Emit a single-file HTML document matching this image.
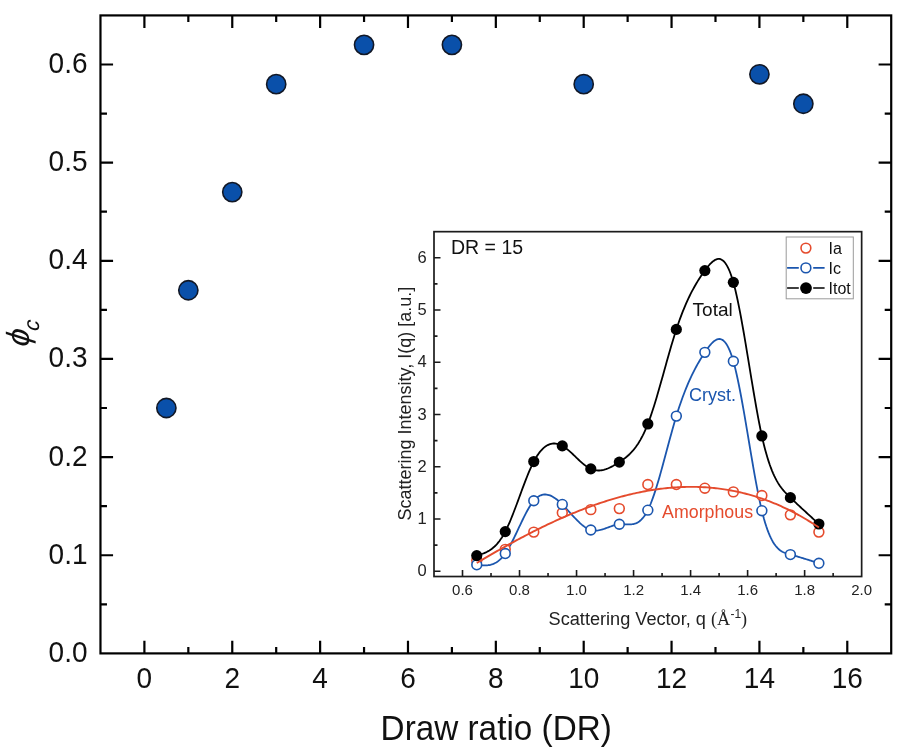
<!DOCTYPE html>
<html><head><meta charset="utf-8"><style>
html,body{margin:0;padding:0;background:#fff;width:905px;height:753px;overflow:hidden}
svg{display:block;will-change:transform}
text{font-family:"Liberation Sans",Arial,sans-serif;fill:#111}
.tl{font-size:28px;fill:#111}
.xl{font-size:33.3px;fill:#111}
.yl{font-size:32px;fill:#111}
.phi{font-style:italic}
.sub{font-size:22px;font-style:italic}
.il{font-size:15px;fill:#222}
.ily{font-size:16.5px;fill:#222}
.ia{font-size:18px;fill:#222}
.ser{font-family:"Liberation Serif",serif}
.sup{font-size:12px}
.dr{font-size:19.5px;fill:#111}
.an{font-size:18px}
.lg{font-size:16px;fill:#111}
</style></head><body>
<svg width="905" height="753" viewBox="0 0 905 753">
<rect x="100.47" y="15.42" width="790.74" height="637.98" fill="none" stroke="#000" stroke-width="2.2"/>
<path d="M144.40,653.40v-12.6M144.40,15.42v12.6M188.33,653.40v-6.5M188.33,15.42v6.5M232.26,653.40v-12.6M232.26,15.42v12.6M276.19,653.40v-6.5M276.19,15.42v6.5M320.12,653.40v-12.6M320.12,15.42v12.6M364.05,653.40v-6.5M364.05,15.42v6.5M407.98,653.40v-12.6M407.98,15.42v12.6M451.91,653.40v-6.5M451.91,15.42v6.5M495.84,653.40v-12.6M495.84,15.42v12.6M539.77,653.40v-6.5M539.77,15.42v6.5M583.70,653.40v-12.6M583.70,15.42v12.6M627.63,653.40v-6.5M627.63,15.42v6.5M671.56,653.40v-12.6M671.56,15.42v12.6M715.49,653.40v-6.5M715.49,15.42v6.5M759.42,653.40v-12.6M759.42,15.42v12.6M803.35,653.40v-6.5M803.35,15.42v6.5M847.28,653.40v-12.6M847.28,15.42v12.6M100.47,604.32h6.5M891.21,604.32h-6.5M100.47,555.25h12.6M891.21,555.25h-12.6M100.47,506.17h6.5M891.21,506.17h-6.5M100.47,457.10h12.6M891.21,457.10h-12.6M100.47,408.02h6.5M891.21,408.02h-6.5M100.47,358.95h12.6M891.21,358.95h-12.6M100.47,309.87h6.5M891.21,309.87h-6.5M100.47,260.80h12.6M891.21,260.80h-12.6M100.47,211.72h6.5M891.21,211.72h-6.5M100.47,162.65h12.6M891.21,162.65h-12.6M100.47,113.57h6.5M891.21,113.57h-6.5M100.47,64.50h12.6M891.21,64.50h-12.6" stroke="#000" stroke-width="2.2" fill="none"/>
<text transform="translate(144.40,688.2) scale(1,1.05)" class="tl" text-anchor="middle">0</text>
<text transform="translate(232.26,688.2) scale(1,1.05)" class="tl" text-anchor="middle">2</text>
<text transform="translate(320.12,688.2) scale(1,1.05)" class="tl" text-anchor="middle">4</text>
<text transform="translate(407.98,688.2) scale(1,1.05)" class="tl" text-anchor="middle">6</text>
<text transform="translate(495.84,688.2) scale(1,1.05)" class="tl" text-anchor="middle">8</text>
<text transform="translate(583.70,688.2) scale(1,1.05)" class="tl" text-anchor="middle">10</text>
<text transform="translate(671.56,688.2) scale(1,1.05)" class="tl" text-anchor="middle">12</text>
<text transform="translate(759.42,688.2) scale(1,1.05)" class="tl" text-anchor="middle">14</text>
<text transform="translate(847.28,688.2) scale(1,1.05)" class="tl" text-anchor="middle">16</text>
<text transform="translate(87.5,661.90) scale(1,1.05)" class="tl" text-anchor="end">0.0</text>
<text transform="translate(87.5,563.75) scale(1,1.05)" class="tl" text-anchor="end">0.1</text>
<text transform="translate(87.5,465.60) scale(1,1.05)" class="tl" text-anchor="end">0.2</text>
<text transform="translate(87.5,367.45) scale(1,1.05)" class="tl" text-anchor="end">0.3</text>
<text transform="translate(87.5,269.30) scale(1,1.05)" class="tl" text-anchor="end">0.4</text>
<text transform="translate(87.5,171.15) scale(1,1.05)" class="tl" text-anchor="end">0.5</text>
<text transform="translate(87.5,73.00) scale(1,1.05)" class="tl" text-anchor="end">0.6</text>
<text transform="translate(380.6,739.8) scale(1,1.055)" class="xl">Draw ratio (DR)</text>
<text transform="translate(29,347.2) rotate(-90) skewX(-7)" class="yl"><tspan class="phi">ϕ</tspan><tspan class="sub" dx="-0.8" dy="9.5">c</tspan></text>
<circle cx="166.37" cy="408.02" r="9.6" fill="#0a50aa" stroke="#121826" stroke-width="1.6"/>
<circle cx="188.33" cy="290.25" r="9.6" fill="#0a50aa" stroke="#121826" stroke-width="1.6"/>
<circle cx="232.26" cy="192.10" r="9.6" fill="#0a50aa" stroke="#121826" stroke-width="1.6"/>
<circle cx="276.19" cy="84.13" r="9.6" fill="#0a50aa" stroke="#121826" stroke-width="1.6"/>
<circle cx="364.05" cy="44.87" r="9.6" fill="#0a50aa" stroke="#121826" stroke-width="1.6"/>
<circle cx="451.91" cy="44.87" r="9.6" fill="#0a50aa" stroke="#121826" stroke-width="1.6"/>
<circle cx="583.70" cy="84.13" r="9.6" fill="#0a50aa" stroke="#121826" stroke-width="1.6"/>
<circle cx="759.42" cy="74.32" r="9.6" fill="#0a50aa" stroke="#121826" stroke-width="1.6"/>
<circle cx="803.35" cy="103.76" r="9.6" fill="#0a50aa" stroke="#121826" stroke-width="1.6"/>
<rect x="434.00" y="231.67" width="427.65" height="344.85" fill="none" stroke="#1c1c1c" stroke-width="1.7"/>
<path d="M462.51,576.52v-6.5M491.02,576.52v-3.5M519.53,576.52v-6.5M548.04,576.52v-3.5M576.55,576.52v-6.5M605.06,576.52v-3.5M633.57,576.52v-6.5M662.08,576.52v-3.5M690.59,576.52v-6.5M719.10,576.52v-3.5M747.61,576.52v-6.5M776.12,576.52v-3.5M804.63,576.52v-6.5M833.14,576.52v-3.5M434.00,545.17h3.5M434.00,519.05h6.5M434.00,492.92h3.5M434.00,466.80h6.5M434.00,440.67h3.5M434.00,414.55h6.5M434.00,388.42h3.5M434.00,362.30h6.5M434.00,336.17h3.5M434.00,310.05h6.5M434.00,283.92h3.5M434.00,257.80h6.5M434.00,571.30h6.5" stroke="#1a1a1a" stroke-width="1.6" fill="none"/>
<text x="462.51" y="595.1" class="il" text-anchor="middle">0.6</text>
<text x="519.53" y="595.1" class="il" text-anchor="middle">0.8</text>
<text x="576.55" y="595.1" class="il" text-anchor="middle">1.0</text>
<text x="633.57" y="595.1" class="il" text-anchor="middle">1.2</text>
<text x="690.59" y="595.1" class="il" text-anchor="middle">1.4</text>
<text x="747.61" y="595.1" class="il" text-anchor="middle">1.6</text>
<text x="804.63" y="595.1" class="il" text-anchor="middle">1.8</text>
<text x="861.65" y="595.1" class="il" text-anchor="middle">2.0</text>
<text x="426.6" y="576.30" class="ily" text-anchor="end">0</text>
<text x="426.6" y="524.05" class="ily" text-anchor="end">1</text>
<text x="426.6" y="471.80" class="ily" text-anchor="end">2</text>
<text x="426.6" y="419.55" class="ily" text-anchor="end">3</text>
<text x="426.6" y="367.30" class="ily" text-anchor="end">4</text>
<text x="426.6" y="315.05" class="ily" text-anchor="end">5</text>
<text x="426.6" y="262.80" class="ily" text-anchor="end">6</text>
<text transform="translate(411.2,520.5) rotate(-90)" class="ia">Scattering Intensity, I(q) [a.u.]</text>
<text x="548.6" y="625.2" class="ia" style="font-size:18.15px">Scattering Vector, q <tspan class="ser">(Å</tspan><tspan class="sup" dx="0.4" dy="-7.7">-1</tspan><tspan class="ser" dx="-0.2" dy="7.7">)</tspan></text>
<text x="451" y="254.4" class="dr">DR = 15</text>
<path d="M476.76,564.82 L477.91,564.95 L479.05,565.08 L480.20,565.19 L481.34,565.29 L482.49,565.36 L483.63,565.41 L484.77,565.42 L485.92,565.39 L487.06,565.32 L488.21,565.20 L489.35,565.01 L490.50,564.77 L491.64,564.46 L492.78,564.08 L493.93,563.62 L495.07,563.07 L496.22,562.43 L497.36,561.70 L498.51,560.86 L499.65,559.92 L500.79,558.86 L501.94,557.69 L503.08,556.39 L504.23,554.96 L505.37,553.40 L506.51,551.70 L507.66,549.87 L508.80,547.92 L509.95,545.88 L511.09,543.74 L512.24,541.52 L513.38,539.24 L514.52,536.90 L515.67,534.51 L516.81,532.10 L517.96,529.67 L519.10,527.23 L520.25,524.80 L521.39,522.39 L522.53,520.01 L523.68,517.67 L524.82,515.39 L525.97,513.17 L527.11,511.03 L528.25,508.98 L529.40,507.04 L530.54,505.21 L531.69,503.51 L532.83,501.95 L533.98,500.54 L535.12,499.29 L536.26,498.20 L537.41,497.25 L538.55,496.46 L539.70,495.80 L540.84,495.28 L541.99,494.90 L543.13,494.64 L544.27,494.50 L545.42,494.47 L546.56,494.56 L547.71,494.76 L548.85,495.05 L549.99,495.45 L551.14,495.93 L552.28,496.50 L553.43,497.15 L554.57,497.88 L555.72,498.68 L556.86,499.55 L558.00,500.48 L559.15,501.46 L560.29,502.50 L561.44,503.58 L562.58,504.70 L563.73,505.87 L564.87,507.06 L566.01,508.28 L567.16,509.51 L568.30,510.76 L569.45,512.02 L570.59,513.29 L571.73,514.55 L572.88,515.80 L574.02,517.03 L575.17,518.25 L576.31,519.45 L577.46,520.61 L578.60,521.73 L579.74,522.82 L580.89,523.86 L582.03,524.84 L583.18,525.77 L584.32,526.63 L585.47,527.42 L586.61,528.13 L587.75,528.77 L588.90,529.32 L590.04,529.77 L591.19,530.13 L592.33,530.39 L593.47,530.56 L594.62,530.64 L595.76,530.64 L596.91,530.57 L598.05,530.43 L599.20,530.24 L600.34,529.99 L601.48,529.70 L602.63,529.36 L603.77,529.00 L604.92,528.61 L606.06,528.20 L607.21,527.77 L608.35,527.35 L609.49,526.92 L610.64,526.50 L611.78,526.10 L612.93,525.71 L614.07,525.36 L615.21,525.04 L616.36,524.76 L617.50,524.53 L618.65,524.35 L619.79,524.23 L620.94,524.18 L622.08,524.17 L623.22,524.20 L624.37,524.25 L625.51,524.31 L626.66,524.37 L627.80,524.42 L628.95,524.44 L630.09,524.42 L631.23,524.36 L632.38,524.23 L633.52,524.02 L634.67,523.73 L635.81,523.34 L636.95,522.84 L638.10,522.22 L639.24,521.45 L640.39,520.54 L641.53,519.47 L642.68,518.23 L643.82,516.80 L644.96,515.18 L646.11,513.34 L647.25,511.28 L648.40,508.99 L649.54,506.47 L650.69,503.73 L651.83,500.78 L652.97,497.65 L654.12,494.34 L655.26,490.87 L656.41,487.25 L657.55,483.51 L658.70,479.64 L659.84,475.68 L660.98,471.63 L662.13,467.51 L663.27,463.33 L664.42,459.10 L665.56,454.85 L666.70,450.58 L667.85,446.31 L668.99,442.06 L670.14,437.84 L671.28,433.66 L672.43,429.55 L673.57,425.50 L674.71,421.54 L675.86,417.69 L677.00,413.95 L678.15,410.34 L679.29,406.84 L680.44,403.45 L681.58,400.18 L682.72,397.02 L683.87,393.96 L685.01,391.00 L686.16,388.14 L687.30,385.38 L688.44,382.70 L689.59,380.11 L690.73,377.61 L691.88,375.19 L693.02,372.85 L694.17,370.58 L695.31,368.38 L696.45,366.25 L697.60,364.18 L698.74,362.18 L699.89,360.23 L701.03,358.34 L702.18,356.49 L703.32,354.70 L704.46,352.95 L705.61,351.24 L706.75,349.58 L707.90,347.98 L709.04,346.47 L710.18,345.05 L711.33,343.74 L712.47,342.56 L713.62,341.52 L714.76,340.64 L715.91,339.93 L717.05,339.40 L718.19,339.08 L719.34,338.98 L720.48,339.10 L721.63,339.48 L722.77,340.12 L723.92,341.04 L725.06,342.25 L726.20,343.78 L727.35,345.63 L728.49,347.81 L729.64,350.35 L730.78,353.27 L731.92,356.57 L733.07,360.27 L734.21,364.38 L735.36,368.89 L736.50,373.76 L737.65,378.97 L738.79,384.48 L739.93,390.26 L741.08,396.28 L742.22,402.51 L743.37,408.92 L744.51,415.47 L745.66,422.13 L746.80,428.88 L747.94,435.68 L749.09,442.50 L750.23,449.31 L751.38,456.08 L752.52,462.77 L753.66,469.36 L754.81,475.81 L755.95,482.10 L757.10,488.18 L758.24,494.03 L759.39,499.62 L760.53,504.92 L761.67,509.89 L762.82,514.52 L763.96,518.79 L765.11,522.73 L766.25,526.34 L767.40,529.66 L768.54,532.68 L769.68,535.43 L770.83,537.92 L771.97,540.16 L773.12,542.17 L774.26,543.96 L775.40,545.55 L776.55,546.95 L777.69,548.18 L778.84,549.26 L779.98,550.19 L781.13,550.99 L782.27,551.68 L783.41,552.27 L784.56,552.77 L785.70,553.21 L786.85,553.59 L787.99,553.93 L789.14,554.25 L790.28,554.55 L791.42,554.86 L792.57,555.18 L793.71,555.49 L794.86,555.82 L796.00,556.14 L797.14,556.47 L798.29,556.81 L799.43,557.15 L800.58,557.49 L801.72,557.84 L802.87,558.19 L804.01,558.54 L805.15,558.90 L806.30,559.26 L807.44,559.62 L808.59,559.98 L809.73,560.34 L810.88,560.71 L812.02,561.08 L813.16,561.45 L814.31,561.82 L815.45,562.19 L816.60,562.56 L817.74,562.93 L818.88,563.31" stroke="#1b56ae" stroke-width="1.8" fill="none"/>
<path d="M476.76,555.62 L477.91,555.28 L479.05,554.92 L480.20,554.55 L481.34,554.17 L482.49,553.76 L483.63,553.32 L484.77,552.84 L485.92,552.33 L487.06,551.76 L488.21,551.15 L489.35,550.47 L490.50,549.73 L491.64,548.91 L492.78,548.02 L493.93,547.05 L495.07,545.98 L496.22,544.82 L497.36,543.56 L498.51,542.19 L499.65,540.71 L500.79,539.11 L501.94,537.39 L503.08,535.53 L504.23,533.54 L505.37,531.41 L506.51,529.13 L507.66,526.71 L508.80,524.17 L509.95,521.52 L511.09,518.77 L512.24,515.93 L513.38,513.02 L514.52,510.04 L515.67,507.01 L516.81,503.94 L517.96,500.85 L519.10,497.73 L520.25,494.61 L521.39,491.50 L522.53,488.41 L523.68,485.36 L524.82,482.34 L525.97,479.38 L527.11,476.49 L528.25,473.67 L529.40,470.95 L530.54,468.33 L531.69,465.83 L532.83,463.45 L533.98,461.21 L535.12,459.12 L536.26,457.17 L537.41,455.37 L538.55,453.71 L539.70,452.18 L540.84,450.79 L541.99,449.53 L543.13,448.39 L544.27,447.39 L545.42,446.50 L546.56,445.74 L547.71,445.09 L548.85,444.56 L549.99,444.14 L551.14,443.83 L552.28,443.62 L553.43,443.52 L554.57,443.52 L555.72,443.61 L556.86,443.80 L558.00,444.08 L559.15,444.45 L560.29,444.90 L561.44,445.44 L562.58,446.06 L563.73,446.76 L564.87,447.52 L566.01,448.35 L567.16,449.24 L568.30,450.17 L569.45,451.15 L570.59,452.17 L571.73,453.21 L572.88,454.28 L574.02,455.36 L575.17,456.46 L576.31,457.55 L577.46,458.65 L578.60,459.73 L579.74,460.80 L580.89,461.84 L582.03,462.85 L583.18,463.83 L584.32,464.76 L585.47,465.64 L586.61,466.46 L587.75,467.22 L588.90,467.91 L590.04,468.53 L591.19,469.06 L592.33,469.50 L593.47,469.86 L594.62,470.13 L595.76,470.33 L596.91,470.46 L598.05,470.51 L599.20,470.49 L600.34,470.41 L601.48,470.26 L602.63,470.05 L603.77,469.79 L604.92,469.47 L606.06,469.10 L607.21,468.68 L608.35,468.22 L609.49,467.71 L610.64,467.17 L611.78,466.59 L612.93,465.98 L614.07,465.34 L615.21,464.67 L616.36,463.98 L617.50,463.26 L618.65,462.53 L619.79,461.78 L620.94,461.02 L622.08,460.24 L623.22,459.43 L624.37,458.58 L625.51,457.70 L626.66,456.77 L627.80,455.79 L628.95,454.75 L630.09,453.64 L631.23,452.47 L632.38,451.23 L633.52,449.90 L634.67,448.48 L635.81,446.97 L636.95,445.36 L638.10,443.64 L639.24,441.82 L640.39,439.87 L641.53,437.80 L642.68,435.61 L643.82,433.27 L644.96,430.80 L646.11,428.18 L647.25,425.40 L648.40,422.47 L649.54,419.38 L650.69,416.14 L651.83,412.77 L652.97,409.27 L654.12,405.67 L655.26,401.96 L656.41,398.16 L657.55,394.29 L658.70,390.35 L659.84,386.35 L660.98,382.31 L662.13,378.23 L663.27,374.14 L664.42,370.03 L665.56,365.92 L666.70,361.83 L667.85,357.76 L668.99,353.72 L670.14,349.73 L671.28,345.79 L672.43,341.93 L673.57,338.14 L674.71,334.44 L675.86,330.85 L677.00,327.37 L678.15,324.00 L679.29,320.74 L680.44,317.60 L681.58,314.56 L682.72,311.63 L683.87,308.79 L685.01,306.05 L686.16,303.41 L687.30,300.85 L688.44,298.38 L689.59,295.99 L690.73,293.69 L691.88,291.46 L693.02,289.31 L694.17,287.22 L695.31,285.21 L696.45,283.26 L697.60,281.37 L698.74,279.53 L699.89,277.76 L701.03,276.03 L702.18,274.35 L703.32,272.72 L704.46,271.12 L705.61,269.57 L706.75,268.06 L707.90,266.62 L709.04,265.26 L710.18,263.98 L711.33,262.82 L712.47,261.78 L713.62,260.88 L714.76,260.13 L715.91,259.54 L717.05,259.15 L718.19,258.95 L719.34,258.96 L720.48,259.21 L721.63,259.70 L722.77,260.45 L723.92,261.47 L725.06,262.78 L726.20,264.40 L727.35,266.34 L728.49,268.61 L729.64,271.23 L730.78,274.22 L731.92,277.59 L733.07,281.35 L734.21,285.52 L735.36,290.09 L736.50,295.02 L737.65,300.28 L738.79,305.84 L739.93,311.68 L741.08,317.76 L742.22,324.05 L743.37,330.53 L744.51,337.17 L745.66,343.93 L746.80,350.78 L747.94,357.71 L749.09,364.66 L750.23,371.63 L751.38,378.57 L752.52,385.46 L753.66,392.26 L754.81,398.96 L755.95,405.51 L757.10,411.89 L758.24,418.07 L759.39,424.02 L760.53,429.71 L761.67,435.10 L762.82,440.19 L763.96,444.95 L765.11,449.42 L766.25,453.60 L767.40,457.50 L768.54,461.14 L769.68,464.53 L770.83,467.69 L771.97,470.61 L773.12,473.33 L774.26,475.85 L775.40,478.19 L776.55,480.35 L777.69,482.35 L778.84,484.21 L779.98,485.93 L781.13,487.53 L782.27,489.03 L783.41,490.43 L784.56,491.74 L785.70,492.99 L786.85,494.18 L787.99,495.32 L789.14,496.44 L790.28,497.54 L791.42,498.63 L792.57,499.71 L793.71,500.80 L794.86,501.88 L796.00,502.95 L797.14,504.03 L798.29,505.10 L799.43,506.16 L800.58,507.23 L801.72,508.29 L802.87,509.35 L804.01,510.40 L805.15,511.46 L806.30,512.51 L807.44,513.56 L808.59,514.61 L809.73,515.66 L810.88,516.71 L812.02,517.75 L813.16,518.80 L814.31,519.84 L815.45,520.89 L816.60,521.93 L817.74,522.97 L818.88,524.01" stroke="#000" stroke-width="1.8" fill="none"/>
<circle cx="476.76" cy="560.48" r="4.9" fill="#fff" stroke="#e54b2d" stroke-width="1.6"/>
<circle cx="505.27" cy="549.35" r="4.9" fill="#fff" stroke="#e54b2d" stroke-width="1.6"/>
<circle cx="533.78" cy="532.11" r="4.9" fill="#fff" stroke="#e54b2d" stroke-width="1.6"/>
<circle cx="562.29" cy="512.78" r="4.9" fill="#fff" stroke="#e54b2d" stroke-width="1.6"/>
<circle cx="590.81" cy="509.64" r="4.9" fill="#fff" stroke="#e54b2d" stroke-width="1.6"/>
<circle cx="619.32" cy="508.60" r="4.9" fill="#fff" stroke="#e54b2d" stroke-width="1.6"/>
<circle cx="647.83" cy="484.56" r="4.9" fill="#fff" stroke="#e54b2d" stroke-width="1.6"/>
<circle cx="676.34" cy="484.56" r="4.9" fill="#fff" stroke="#e54b2d" stroke-width="1.6"/>
<circle cx="704.85" cy="488.22" r="4.9" fill="#fff" stroke="#e54b2d" stroke-width="1.6"/>
<circle cx="733.36" cy="491.88" r="4.9" fill="#fff" stroke="#e54b2d" stroke-width="1.6"/>
<circle cx="761.87" cy="495.54" r="4.9" fill="#fff" stroke="#e54b2d" stroke-width="1.6"/>
<circle cx="790.38" cy="514.87" r="4.9" fill="#fff" stroke="#e54b2d" stroke-width="1.6"/>
<circle cx="818.88" cy="532.11" r="4.9" fill="#fff" stroke="#e54b2d" stroke-width="1.6"/>
<circle cx="476.76" cy="564.82" r="4.9" fill="#fff" stroke="#1b56ae" stroke-width="1.6"/>
<circle cx="505.27" cy="553.53" r="4.9" fill="#fff" stroke="#1b56ae" stroke-width="1.6"/>
<circle cx="533.78" cy="500.76" r="4.9" fill="#fff" stroke="#1b56ae" stroke-width="1.6"/>
<circle cx="562.29" cy="504.42" r="4.9" fill="#fff" stroke="#1b56ae" stroke-width="1.6"/>
<circle cx="590.81" cy="530.02" r="4.9" fill="#fff" stroke="#1b56ae" stroke-width="1.6"/>
<circle cx="619.32" cy="524.27" r="4.9" fill="#fff" stroke="#1b56ae" stroke-width="1.6"/>
<circle cx="647.83" cy="510.17" r="4.9" fill="#fff" stroke="#1b56ae" stroke-width="1.6"/>
<circle cx="676.34" cy="416.12" r="4.9" fill="#fff" stroke="#1b56ae" stroke-width="1.6"/>
<circle cx="704.85" cy="352.37" r="4.9" fill="#fff" stroke="#1b56ae" stroke-width="1.6"/>
<circle cx="733.36" cy="361.25" r="4.9" fill="#fff" stroke="#1b56ae" stroke-width="1.6"/>
<circle cx="761.87" cy="510.69" r="4.9" fill="#fff" stroke="#1b56ae" stroke-width="1.6"/>
<circle cx="790.38" cy="554.58" r="4.9" fill="#fff" stroke="#1b56ae" stroke-width="1.6"/>
<circle cx="818.88" cy="563.31" r="4.9" fill="#fff" stroke="#1b56ae" stroke-width="1.6"/>
<circle cx="476.76" cy="555.62" r="5.6" fill="#000"/>
<circle cx="505.27" cy="531.59" r="5.6" fill="#000"/>
<circle cx="533.78" cy="461.57" r="5.6" fill="#000"/>
<circle cx="562.29" cy="445.90" r="5.6" fill="#000"/>
<circle cx="590.81" cy="468.89" r="5.6" fill="#000"/>
<circle cx="619.32" cy="462.10" r="5.6" fill="#000"/>
<circle cx="647.83" cy="423.95" r="5.6" fill="#000"/>
<circle cx="676.34" cy="329.38" r="5.6" fill="#000"/>
<circle cx="704.85" cy="270.60" r="5.6" fill="#000"/>
<circle cx="733.36" cy="282.36" r="5.6" fill="#000"/>
<circle cx="761.87" cy="435.97" r="5.6" fill="#000"/>
<circle cx="790.38" cy="497.63" r="5.6" fill="#000"/>
<circle cx="818.88" cy="524.01" r="5.6" fill="#000"/>
<path d="M476.76,563.02 L478.48,561.99 L480.20,560.97 L481.92,559.95 L483.64,558.93 L485.36,557.92 L487.08,556.91 L488.80,555.91 L490.52,554.91 L492.24,553.91 L493.96,552.92 L495.68,551.93 L497.40,550.95 L499.11,549.97 L500.83,549.00 L502.55,548.03 L504.27,547.06 L505.99,546.10 L507.71,545.15 L509.43,544.20 L511.15,543.26 L512.87,542.32 L514.59,541.38 L516.31,540.45 L518.03,539.53 L519.74,538.61 L521.46,537.70 L523.18,536.79 L524.90,535.89 L526.62,534.99 L528.34,534.10 L530.06,533.22 L531.78,532.34 L533.50,531.47 L535.22,530.60 L536.94,529.74 L538.66,528.89 L540.38,528.04 L542.09,527.20 L543.81,526.37 L545.53,525.54 L547.25,524.72 L548.97,523.90 L550.69,523.09 L552.41,522.29 L554.13,521.50 L555.85,520.71 L557.57,519.93 L559.29,519.16 L561.01,518.39 L562.72,517.63 L564.44,516.88 L566.16,516.14 L567.88,515.40 L569.60,514.67 L571.32,513.95 L573.04,513.24 L574.76,512.53 L576.48,511.83 L578.20,511.14 L579.92,510.46 L581.64,509.79 L583.36,509.12 L585.07,508.46 L586.79,507.81 L588.51,507.17 L590.23,506.54 L591.95,505.92 L593.67,505.30 L595.39,504.69 L597.11,504.10 L598.83,503.51 L600.55,502.93 L602.27,502.36 L603.99,501.79 L605.70,501.24 L607.42,500.70 L609.14,500.16 L610.86,499.64 L612.58,499.12 L614.30,498.61 L616.02,498.12 L617.74,497.63 L619.46,497.15 L621.18,496.69 L622.90,496.23 L624.62,495.78 L626.34,495.34 L628.05,494.91 L629.77,494.50 L631.49,494.09 L633.21,493.69 L634.93,493.31 L636.65,492.93 L638.37,492.56 L640.09,492.21 L641.81,491.86 L643.53,491.53 L645.25,491.21 L646.97,490.90 L648.68,490.59 L650.40,490.30 L652.12,490.03 L653.84,489.76 L655.56,489.50 L657.28,489.26 L659.00,489.02 L660.72,488.80 L662.44,488.59 L664.16,488.39 L665.88,488.20 L667.60,488.03 L669.31,487.87 L671.03,487.71 L672.75,487.57 L674.47,487.45 L676.19,487.33 L677.91,487.23 L679.63,487.14 L681.35,487.06 L683.07,486.99 L684.79,486.94 L686.51,486.90 L688.23,486.87 L689.95,486.86 L691.66,486.85 L693.38,486.86 L695.10,486.89 L696.82,486.92 L698.54,486.97 L700.26,487.03 L701.98,487.11 L703.70,487.20 L705.42,487.30 L707.14,487.42 L708.86,487.55 L710.58,487.69 L712.29,487.85 L714.01,488.02 L715.73,488.20 L717.45,488.40 L719.17,488.62 L720.89,488.84 L722.61,489.08 L724.33,489.34 L726.05,489.61 L727.77,489.89 L729.49,490.19 L731.21,490.50 L732.93,490.83 L734.64,491.17 L736.36,491.53 L738.08,491.90 L739.80,492.29 L741.52,492.69 L743.24,493.11 L744.96,493.54 L746.68,493.99 L748.40,494.45 L750.12,494.93 L751.84,495.42 L753.56,495.93 L755.27,496.45 L756.99,496.99 L758.71,497.55 L760.43,498.12 L762.15,498.70 L763.87,499.31 L765.59,499.93 L767.31,500.56 L769.03,501.21 L770.75,501.88 L772.47,502.56 L774.19,503.26 L775.91,503.98 L777.62,504.71 L779.34,505.46 L781.06,506.23 L782.78,507.01 L784.50,507.81 L786.22,508.63 L787.94,509.47 L789.66,510.32 L791.38,511.18 L793.10,512.07 L794.82,512.97 L796.54,513.89 L798.25,514.83 L799.97,515.78 L801.69,516.76 L803.41,517.75 L805.13,518.76 L806.85,519.78 L808.57,520.82 L810.29,521.89 L812.01,522.97 L813.73,524.06 L815.45,525.18 L817.17,526.31 L818.88,527.46" stroke="#e54b2d" stroke-width="1.9" fill="none"/>
<text x="692.6" y="315.8" class="an" style="fill:#111;font-size:19px">Total</text>
<text x="689" y="401.2" class="an" style="fill:#1b56ae">Cryst.</text>
<text x="662.1" y="518" class="an" style="fill:#e54b2d;font-size:17.8px">Amorphous</text>
<rect x="786.2" y="237" width="67.1" height="61.8" fill="#fff" stroke="#9a9a9a" stroke-width="1"/>
<circle cx="805.9" cy="248.1" r="4.9" fill="#fff" stroke="#e54b2d" stroke-width="1.6"/>
<path d="M787.1,267.9H798.8M813.2,267.9H824.6" stroke="#1b56ae" stroke-width="1.7"/>
<circle cx="805.9" cy="267.9" r="4.9" fill="#fff" stroke="#1b56ae" stroke-width="1.6"/>
<path d="M787.1,288H798.8M813.2,288H824.6" stroke="#000" stroke-width="1.7"/>
<circle cx="806" cy="288.1" r="5.9" fill="#000"/>
<text x="828.5" y="253.6" class="lg">Ia</text>
<text x="828.5" y="273.6" class="lg">Ic</text>
<text x="828.5" y="293.6" class="lg">Itot</text>
</svg>
</body></html>
